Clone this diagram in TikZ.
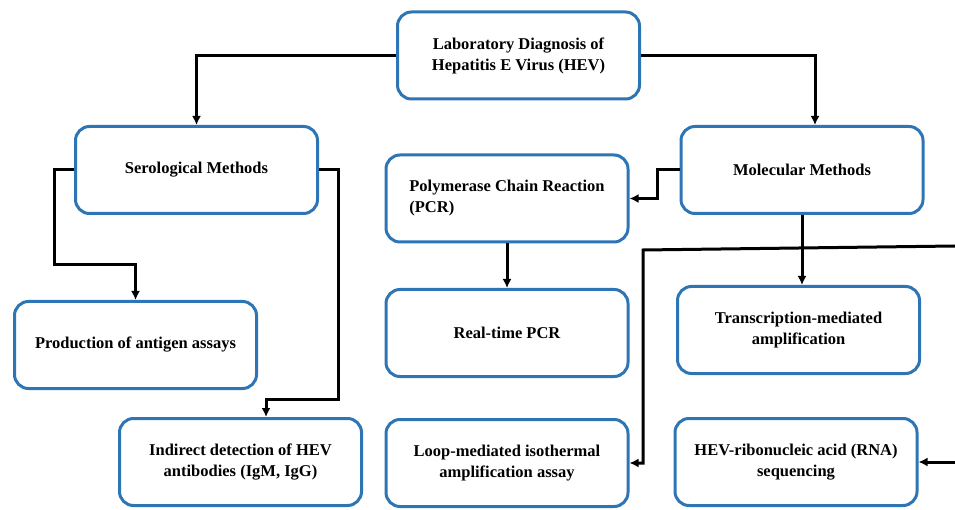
\documentclass[tikz,border=0pt]{standalone}
\usepackage{fontspec}
\setmainfont{Liberation Serif}
\usetikzlibrary{arrows.meta}
\definecolor{hevblue}{RGB}{46,117,182}

\tikzset{
  methbox/.style={draw=hevblue,line width=3pt,rounded corners=14pt,fill=white,
    minimum width=242pt,minimum height=87pt,align=center,
    font=\fontsize{16.5}{21}\selectfont\bfseries},
  conn/.style={line width=3pt,-{Latex[length=9pt,width=9pt]}}
}

\begin{document}
\begin{tikzpicture}[x=1pt,y=-1pt]
\useasboundingbox (0,0) rectangle (955,510);
% boxes
\node[methbox] (top) at (518.5,55.5) {Laboratory Diagnosis of\\Hepatitis E Virus (HEV)};
\node[methbox] (sero) at (196.5,170) {Serological Methods};
\node[methbox] (mol) at (802,170) {Molecular Methods};
\node[methbox,align=left] (pcr) at (507,198.5) {Polymerase Chain Reaction\\(PCR)};
\node[methbox] (prod) at (135.5,345) {Production of antigen assays};
\node[methbox] (rt) at (507,333) {Real-time PCR};
\node[methbox] (tma) at (798.5,330) {Transcription-mediated\\amplification};
\node[methbox] (ind) at (240.5,462) {Indirect detection of HEV\\antibodies (IgM, IgG)};
\node[methbox] (lamp) at (507,463) {Loop-mediated isothermal\\amplification assay};
\node[methbox] (rna) at (796,462) {HEV-ribonucleic acid (RNA)\\sequencing};
% free ends at the right edge
\coordinate (edgeA) at (955,246);
\coordinate (edgeB) at (955,462);
% connectors
\draw[conn] (top.west) -| (sero.north);
\draw[conn] (top.east) -| ([xshift=13pt]mol.north);
\draw[conn] (sero.west) -| (54,265) -| (prod.north);
\draw[conn] (sero.east) -| (338,399) -| ([xshift=25.5pt]ind.north);
\draw[conn] (mol.west) -- ++(-22,0) |- (pcr.east);
\draw[conn] (pcr.south) -- (rt.north);
\draw[conn] (mol.south) -- (mol.south |- tma.north);
\draw[conn] (edgeA) -- (643,250) |- (lamp.east);
\draw[conn] (edgeB) -- (rna.east);
\end{tikzpicture}
\end{document}
